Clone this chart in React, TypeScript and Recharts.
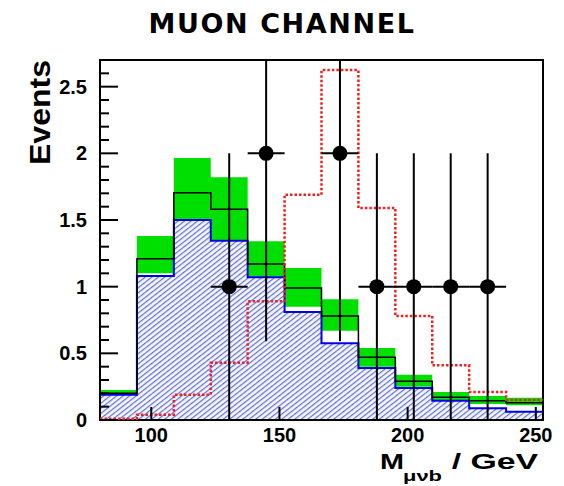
import React from 'react';
import { ComposedChart, Area, Line, Scatter, XAxis, YAxis, ErrorBar, ReferenceArea } from 'recharts';

// Bin edges (GeV) of the 12-bin histogram
const binEdges = [80, 94.4, 108.8, 123.2, 137.6, 152, 166.4, 180.8, 195.2, 209.6, 224, 238.4, 252.8];
// Background (hatched blue)
const background = [0.19, 1.08, 1.5, 1.345, 1.07, 0.81, 0.575, 0.39, 0.24, 0.145, 0.088, 0.062];
// Total expectation (black line)
const totalExpected = [0.2, 1.21, 1.705, 1.58, 1.17, 0.99, 0.78, 0.47, 0.29, 0.17, 0.145, 0.13];
// Uncertainty band (green)
const bandLow = [0.18, 1.1, 1.5, 1.35, 1.075, 0.85, 0.67, 0.4, 0.25, 0.14, 0.12, 0.11];
const bandHigh = [0.225, 1.38, 1.965, 1.82, 1.34, 1.14, 0.905, 0.54, 0.34, 0.21, 0.18, 0.167];
// Signal (red dotted)
const signal = [0.01, 0.04, 0.19, 0.43, 0.89, 1.69, 2.625, 1.59, 0.78, 0.41, 0.21, 0.15];

// Observed data points
const dataX = [130.4, 144.8, 173.6, 188, 202.4, 216.8, 231.2];
const dataCounts = [1, 2, 2, 1, 1, 1, 1];
const dataErrLow = [1, 1.41, 1.41, 1, 1, 1, 1];
const dataErrHigh = [1, 1.41, 1.41, 1, 1, 1, 1];
const dataHalfWidth = [7.2, 7.2, 7.2, 7.2, 7.2, 7.2, 7.2];

// Axes
const xDomain = [80, 252.8];
const yDomain = [0, 2.7];
const xTicks = [100, 150, 200, 250];
const yTicks = [0, 0.1, 0.2, 0.3, 0.4, 0.5, 0.6, 0.7, 0.8, 0.9, 1, 1.1, 1.2, 1.3, 1.4, 1.5, 1.6, 1.7, 1.8, 1.9, 2, 2.1, 2.2, 2.3, 2.4, 2.5, 2.6, 2.7];
const yMajorTicks = [0, 0.5, 1, 1.5, 2, 2.5];

const histRows = binEdges.map((x, i) => {
  const b = Math.min(i, background.length - 1);
  return {
    x,
    bkg: background[b],
    total: totalExpected[b],
    band: [bandLow[b], bandHigh[b]],
    sig: signal[b],
  };
});

// error bars are cut at the frame top, as in the plot
const pointRows = dataX.map((x, i) => ({
  x,
  y: dataCounts[i],
  ey: [dataErrLow[i], Math.min(dataErrHigh[i], yDomain[1] - dataCounts[i])],
  ex: [dataHalfWidth[i], dataHalfWidth[i]],
}));

const FONT = '"Liberation Sans", Arial, Helvetica, sans-serif';

const YTick = (props: any) => {
  const { x, y, payload } = props;
  const v = payload.value;
  const major = yMajorTicks.includes(v);
  return (
    <g>
      <line x1={x} x2={x + (major ? 18 : 9)} y1={y} y2={y} stroke="#000" strokeWidth={2} />
      {major && (
        <text x={x - 13} y={y + 7} textAnchor="end" fontFamily={FONT} fontWeight={700} fontSize={20} fill="#000">
          {String(v)}
        </text>
      )}
    </g>
  );
};

const XTick = (props: any) => {
  const { x, y, payload } = props;
  return (
    <g>
      <line x1={x} x2={x} y1={y} y2={y - 13} stroke="#000" strokeWidth={2} />
      <text x={x} y={y + 22} textAnchor="middle" fontFamily={FONT} fontWeight={700} fontSize={20} fill="#000">
        {String(payload.value)}
      </text>
    </g>
  );
};

const Dot = (p: any) => <circle cx={p.cx} cy={p.cy} r={7.5} fill="#000" />;

export default function App() {
  return (
    <div style={{ position: 'relative', width: 556, height: 478 }}>
      <ComposedChart width={556} height={478} data={histRows} margin={{ top: 52, right: 21, bottom: 36, left: 32 }}>
        <defs>
          <pattern id="hatch" width="4" height="4" patternUnits="userSpaceOnUse" patternTransform="rotate(52)">
            <rect x="0" y="0" width="4" height="4" fill="#f4f5ff" />
            <line x1="0.6" y1="0" x2="0.6" y2="4" stroke="#5767cf" strokeWidth="1.1" />
          </pattern>
        </defs>
        <XAxis
          dataKey="x"
          type="number"
          domain={xDomain}
          allowDataOverflow
          ticks={xTicks}
          interval={0}
          tickSize={0}
          tickMargin={0}
          axisLine={false}
          tickLine={false}
          tick={<XTick />}
          height={30}
        />
        <YAxis
          type="number"
          domain={yDomain}
          allowDataOverflow
          ticks={yTicks}
          interval={0}
          tickSize={0}
          tickMargin={0}
          axisLine={false}
          tickLine={false}
          tick={<YTick />}
          width={60}
        />
        <Area type="stepAfter" dataKey="band" fill="#00e000" fillOpacity={1} stroke="none" isAnimationActive={false} />
        <Area type="stepAfter" dataKey="bkg" fill="url(#hatch)" fillOpacity={1} stroke="#0000ee" strokeWidth={2} isAnimationActive={false} />
        <Line type="stepAfter" dataKey="total" stroke="#000" strokeWidth={1.5} dot={false} isAnimationActive={false} />
        <Line type="stepAfter" dataKey="sig" stroke="#ee2020" strokeWidth={2.5} strokeDasharray="2.5 2" dot={false} isAnimationActive={false} />
        <Scatter data={pointRows} dataKey="y" shape={Dot} isAnimationActive={false}>
          <ErrorBar dataKey="ey" direction="y" width={0} stroke="#000" strokeWidth={2} isAnimationActive={false} />
          <ErrorBar dataKey="ex" direction="x" width={0} stroke="#000" strokeWidth={2} isAnimationActive={false} />
        </Scatter>
        <ReferenceArea x1={xDomain[0]} x2={xDomain[1]} y1={yDomain[0]} y2={yDomain[1]} fill="none" stroke="#000" strokeWidth={2} ifOverflow="visible" />
      </ComposedChart>
      <svg width={556} height={478} style={{ position: 'absolute', left: 0, top: 0, pointerEvents: 'none' }}>
        <text x={274} y={25} textAnchor="middle" fontFamily='"DejaVu Sans", sans-serif' fontWeight={700} fontSize={27} letterSpacing={1.6} fill="#000">
          MUON CHANNEL
        </text>
        <text transform="translate(42,104.5) rotate(-90)" textAnchor="middle" fontFamily={FONT} fontWeight={700} fontSize={30} textLength={105} lengthAdjust="spacingAndGlyphs" fill="#000">
          Events
        </text>
        <text x={372} y={461} fontFamily={FONT} fontWeight={700} fontSize={22} textLength={24} lengthAdjust="spacingAndGlyphs" fill="#000">M</text>
        <text x={395} y={473} fontFamily={FONT} fontWeight={700} fontSize={14} textLength={39} lengthAdjust="spacingAndGlyphs" fill="#000">μνb</text>
        <text x={443.7} y={461} fontFamily={FONT} fontWeight={700} fontSize={22} textLength={86.5} lengthAdjust="spacingAndGlyphs" fill="#000">/ GeV</text>
      </svg>
    </div>
  );
}
